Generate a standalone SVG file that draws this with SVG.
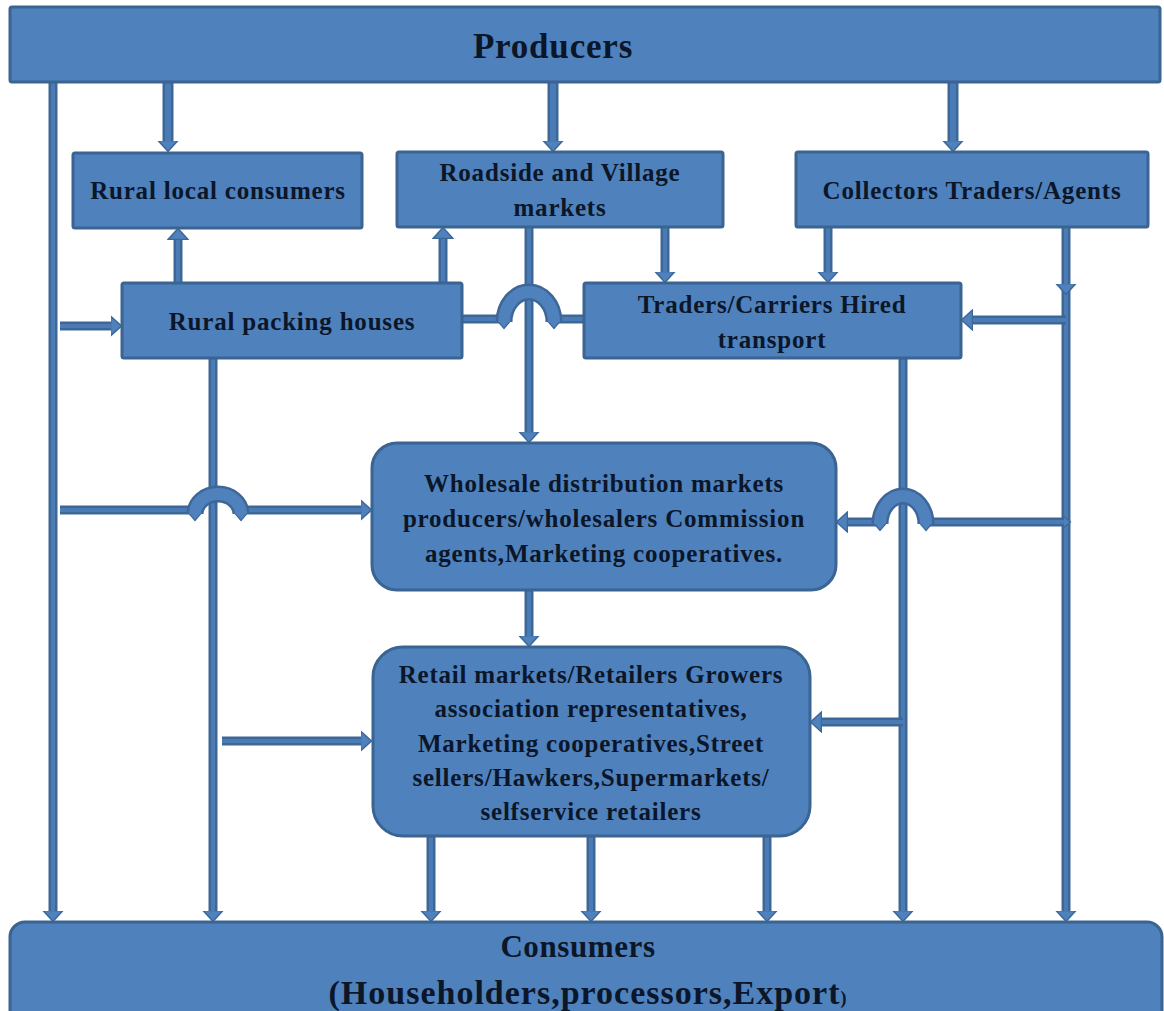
<svg xmlns="http://www.w3.org/2000/svg" width="1164" height="1011" viewBox="0 0 1164 1011">
<style>
.box{fill:#4f81bd;stroke:#3a6491;stroke-width:3}
.t{font-family:"Liberation Serif","DejaVu Serif",serif;font-weight:bold;fill:#0b1628;text-anchor:middle}
.n{font-size:25px;letter-spacing:0.8px}
.co{fill:none;stroke:#3d6797;stroke-width:9}
.ci{fill:none;stroke:#4a7bb5;stroke-width:4}
.cot{fill:none;stroke:#3d6797;stroke-width:11}
.cit{fill:none;stroke:#4a7bb5;stroke-width:6}
.ho{fill:none;stroke:#3d6797;stroke-width:17}
.hi{fill:none;stroke:#4f81bd;stroke-width:12}
.a{marker-end:url(#ah)}
</style>
<defs>
<marker id="ah" viewBox="0 0 12 22" markerWidth="12" markerHeight="22" refX="0.5" refY="11" orient="auto" markerUnits="userSpaceOnUse">
<path d="M0,1 L11,11 L0,21 Z" fill="#4f81bd" stroke="#3d6797" stroke-width="1.5"/>
</marker>
<marker id="nub" viewBox="0 0 8 14" markerWidth="8" markerHeight="14" refX="0.5" refY="7" orient="auto-start-reverse" markerUnits="userSpaceOnUse">
<path d="M0,1 L7,7 L0,13 Z" fill="#4f81bd" stroke="#3d6797" stroke-width="1.2"/>
</marker>
</defs>

<g id="connectors">
<path class="cot" d="M168,82 V141"/><path class="cit a" d="M168,82 V141"/>
<path class="cot" d="M553,82 V141"/><path class="cit a" d="M553,82 V141"/>
<path class="cot" d="M953,82 V141"/><path class="cit a" d="M953,82 V141"/>
<path class="co" d="M53,82 V911"/><path class="ci a" d="M53,82 V911"/>
<path class="co" d="M213,358 V911"/><path class="ci a" d="M213,358 V911"/>
<path class="co" d="M903,358 V911"/><path class="ci a" d="M903,358 V911"/>
<path class="co" d="M1066,284 V911"/><path class="ci a" d="M1066,284 V911"/>
<path class="co" d="M1066,227 V284"/><path class="ci a" d="M1066,227 V284"/>
<path class="co" d="M529,227 V432"/><path class="ci a" d="M529,227 V432"/>
<path class="co" d="M178,283 V239"/><path class="ci a" d="M178,283 V239"/>
<path class="co" d="M443,283 V238"/><path class="ci a" d="M443,283 V238"/>
<path class="co" d="M665,227 V272"/><path class="ci a" d="M665,227 V272"/>
<path class="co" d="M828,227 V272"/><path class="ci a" d="M828,227 V272"/>
<path class="co" d="M1066,320 H972"/><path class="ci a" d="M1066,320 H972"/>
<path class="co" d="M60,326 H111"/><path class="ci a" d="M60,326 H111"/>
<path class="co" d="M462,319 H502"/><path class="ci" d="M462,319 H502"/>
<path class="co" d="M556,319 H584"/><path class="ci" d="M556,319 H584"/>
<path class="ho" d="M504,322 A25,30 0 0 1 554,322" marker-start="url(#nub)" marker-end="url(#nub)"/><path class="hi" d="M504,322 A25,30 0 0 1 554,322"/>
<path class="co" d="M60,510 H196"/><path class="ci" d="M60,510 H196"/>
<path class="co" d="M240,510 H361"/><path class="ci a" d="M240,510 H361"/>
<path class="ho" d="M195,514 A23,20 0 0 1 241,514" marker-start="url(#nub)" marker-end="url(#nub)"/><path class="hi" d="M195,514 A23,20 0 0 1 241,514"/>
<path class="co" d="M1064,522 H924"/><path class="ci" d="M1064,522 H924" marker-start="url(#nub)"/>
<path class="co" d="M882,522 H847"/><path class="ci a" d="M882,522 H847"/>
<path class="ho" d="M880,524 A23,28 0 0 1 926,524" marker-start="url(#nub)" marker-end="url(#nub)"/><path class="hi" d="M880,524 A23,28 0 0 1 926,524"/>
<path class="co" d="M529,590 V636"/><path class="ci a" d="M529,590 V636"/>
<path class="co" d="M222,741 H361"/><path class="ci a" d="M222,741 H361"/>
<path class="co" d="M903,722 H821"/><path class="ci a" d="M903,722 H821"/>
<path class="co" d="M431,836 V911"/><path class="ci a" d="M431,836 V911"/>
<path class="co" d="M591,836 V911"/><path class="ci a" d="M591,836 V911"/>
<path class="co" d="M767,836 V911"/><path class="ci a" d="M767,836 V911"/>
</g>

<g id="producers">
<rect class="box" x="10" y="7" width="1150" height="75" rx="2"/>
<text class="t" x="553" y="58" font-size="35" letter-spacing="0.8">Producers</text>
</g>
<g id="rural-local-consumers">
<rect class="box" x="73" y="153" width="289" height="75" rx="2"/>
<text class="t n" x="218" y="199">Rural local consumers</text>
</g>
<g id="roadside-village-markets">
<rect class="box" x="397" y="152" width="326" height="75" rx="2"/>
<text class="t n" x="560" y="181">Roadside and Village</text>
<text class="t n" x="560" y="216">markets</text>
</g>
<g id="collectors">
<rect class="box" x="796" y="152" width="352" height="75" rx="2"/>
<text class="t n" x="972" y="199">Collectors Traders/Agents</text>
</g>
<g id="rural-packing-houses">
<rect class="box" x="122" y="283" width="340" height="75" rx="2"/>
<text class="t n" x="292" y="330">Rural packing houses</text>
</g>
<g id="traders-carriers">
<rect class="box" x="584" y="283" width="377" height="75" rx="2"/>
<text class="t n" x="772" y="313">Traders/Carriers Hired</text>
<text class="t n" x="772" y="348">transport</text>
</g>
<g id="wholesale">
<rect class="box" x="372" y="443" width="464" height="147" rx="25"/>
<text class="t n" x="604" y="492">Wholesale distribution markets</text>
<text class="t n" x="604" y="527">producers/wholesalers Commission</text>
<text class="t n" x="604" y="562">agents,Marketing cooperatives.</text>
</g>
<g id="retail">
<rect class="box" x="373" y="647" width="437" height="189" rx="30"/>
<text class="t n" x="591" y="683">Retail markets/Retailers Growers</text>
<text class="t n" x="591" y="717">association representatives,</text>
<text class="t n" x="591" y="752">Marketing cooperatives,Street</text>
<text class="t n" x="591" y="786">sellers/Hawkers,Supermarkets/</text>
<text class="t n" x="591" y="820">selfservice retailers</text>
</g>
<g id="consumers">
<rect class="box" x="10" y="922" width="1152" height="105" rx="15"/>
<text class="t" x="578" y="957" font-size="31" letter-spacing="0.6">Consumers</text>
<text class="t" x="588" y="1004" font-size="34" letter-spacing="1">(Householders,processors,Export<tspan font-size="18">)</tspan></text>
</g>
</svg>
